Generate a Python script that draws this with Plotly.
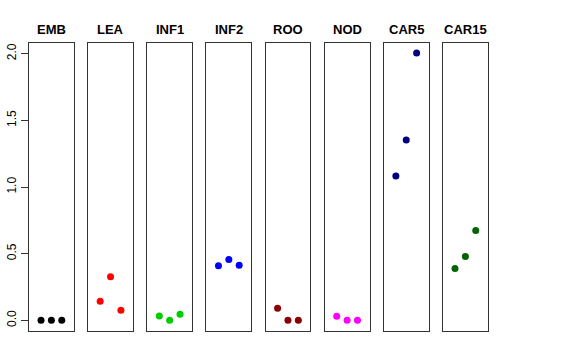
import plotly.graph_objects as go

categories = ["EMB", "LEA", "INF1", "INF2", "ROO", "NOD", "CAR5", "CAR15"]
colors = ["#000000", "#FF0000", "#00CD00", "#0000FF", "#8B0000", "#FF00FF", "#000080", "#006400"]
x_pos = [1, 2, 3]
values = {
    "EMB": [0.0, 0.0, 0.0],
    "LEA": [0.143, 0.326, 0.075],
    "INF1": [0.033, 0.0, 0.045],
    "INF2": [0.41, 0.456, 0.414],
    "ROO": [0.09, 0.0, 0.0],
    "NOD": [0.03, 0.0, 0.0],
    "CAR5": [1.083, 1.353, 2.005],
    "CAR15": [0.389, 0.479, 0.674],
}
y_ticks = [0.0, 0.5, 1.0, 1.5, 2.0]
y_ticklabels = ["0.0", "0.5", "1.0", "1.5", "2.0"]

W, H = 576, 360
fig = go.Figure()
left0, pitch, pw = 29.0, 59.14, 44.8
ydom = [(H - 331) / H, (H - 43) / H]
annotations = []
for i, cat in enumerate(categories):
    n = "" if i == 0 else str(i + 1)
    fig.add_trace(go.Scatter(x=x_pos, y=values[cat], mode="markers",
                             marker=dict(color=colors[i], size=7),
                             xaxis="x" + n, yaxis="y" + n, showlegend=False,
                             hoverinfo="skip"))
    l = left0 + i * pitch
    xd = [l / W, (l + pw) / W]
    fig.layout["xaxis" + n] = dict(domain=xd, range=[-0.16, 4.16], showgrid=False,
                                   zeroline=False, showticklabels=False, ticks="",
                                   showline=True, mirror=True, linecolor="#333333",
                                   linewidth=1, anchor="y" + n, fixedrange=True,
                                   automargin=False)
    ya = dict(domain=ydom, range=[-0.08, 2.08], showgrid=False, zeroline=False,
              showline=True, mirror=True, linecolor="#333333", linewidth=1,
              anchor="x" + n, automargin=False, fixedrange=True)
    if i == 0:
        ya.update(tickvals=y_ticks, ticktext=y_ticklabels, ticks="outside",
                  ticklen=7, tickcolor="#333333", tickwidth=1, tickangle=-90,
                  tickfont=dict(size=12, color="#000000", family="Liberation Sans"))
    else:
        ya.update(showticklabels=False, ticks="")
    fig.layout["yaxis" + n] = ya
    annotations.append(dict(text="<b>" + cat + "</b>", x=(l + pw / 2) / W,
                            y=1 - 29 / H, xref="paper", yref="paper",
                            xanchor="center", yanchor="middle", showarrow=False,
                            font=dict(size=13, color="#000000", family="Liberation Sans")))

fig.update_layout(width=W, height=H, margin=dict(l=0, r=0, t=0, b=0),
                  plot_bgcolor="white", paper_bgcolor="white",
                  annotations=annotations)
fig.write_html("out.html", config={"displayModeBar": False},
               post_script="document.body.style.margin='0';document.body.style.padding='0';")
